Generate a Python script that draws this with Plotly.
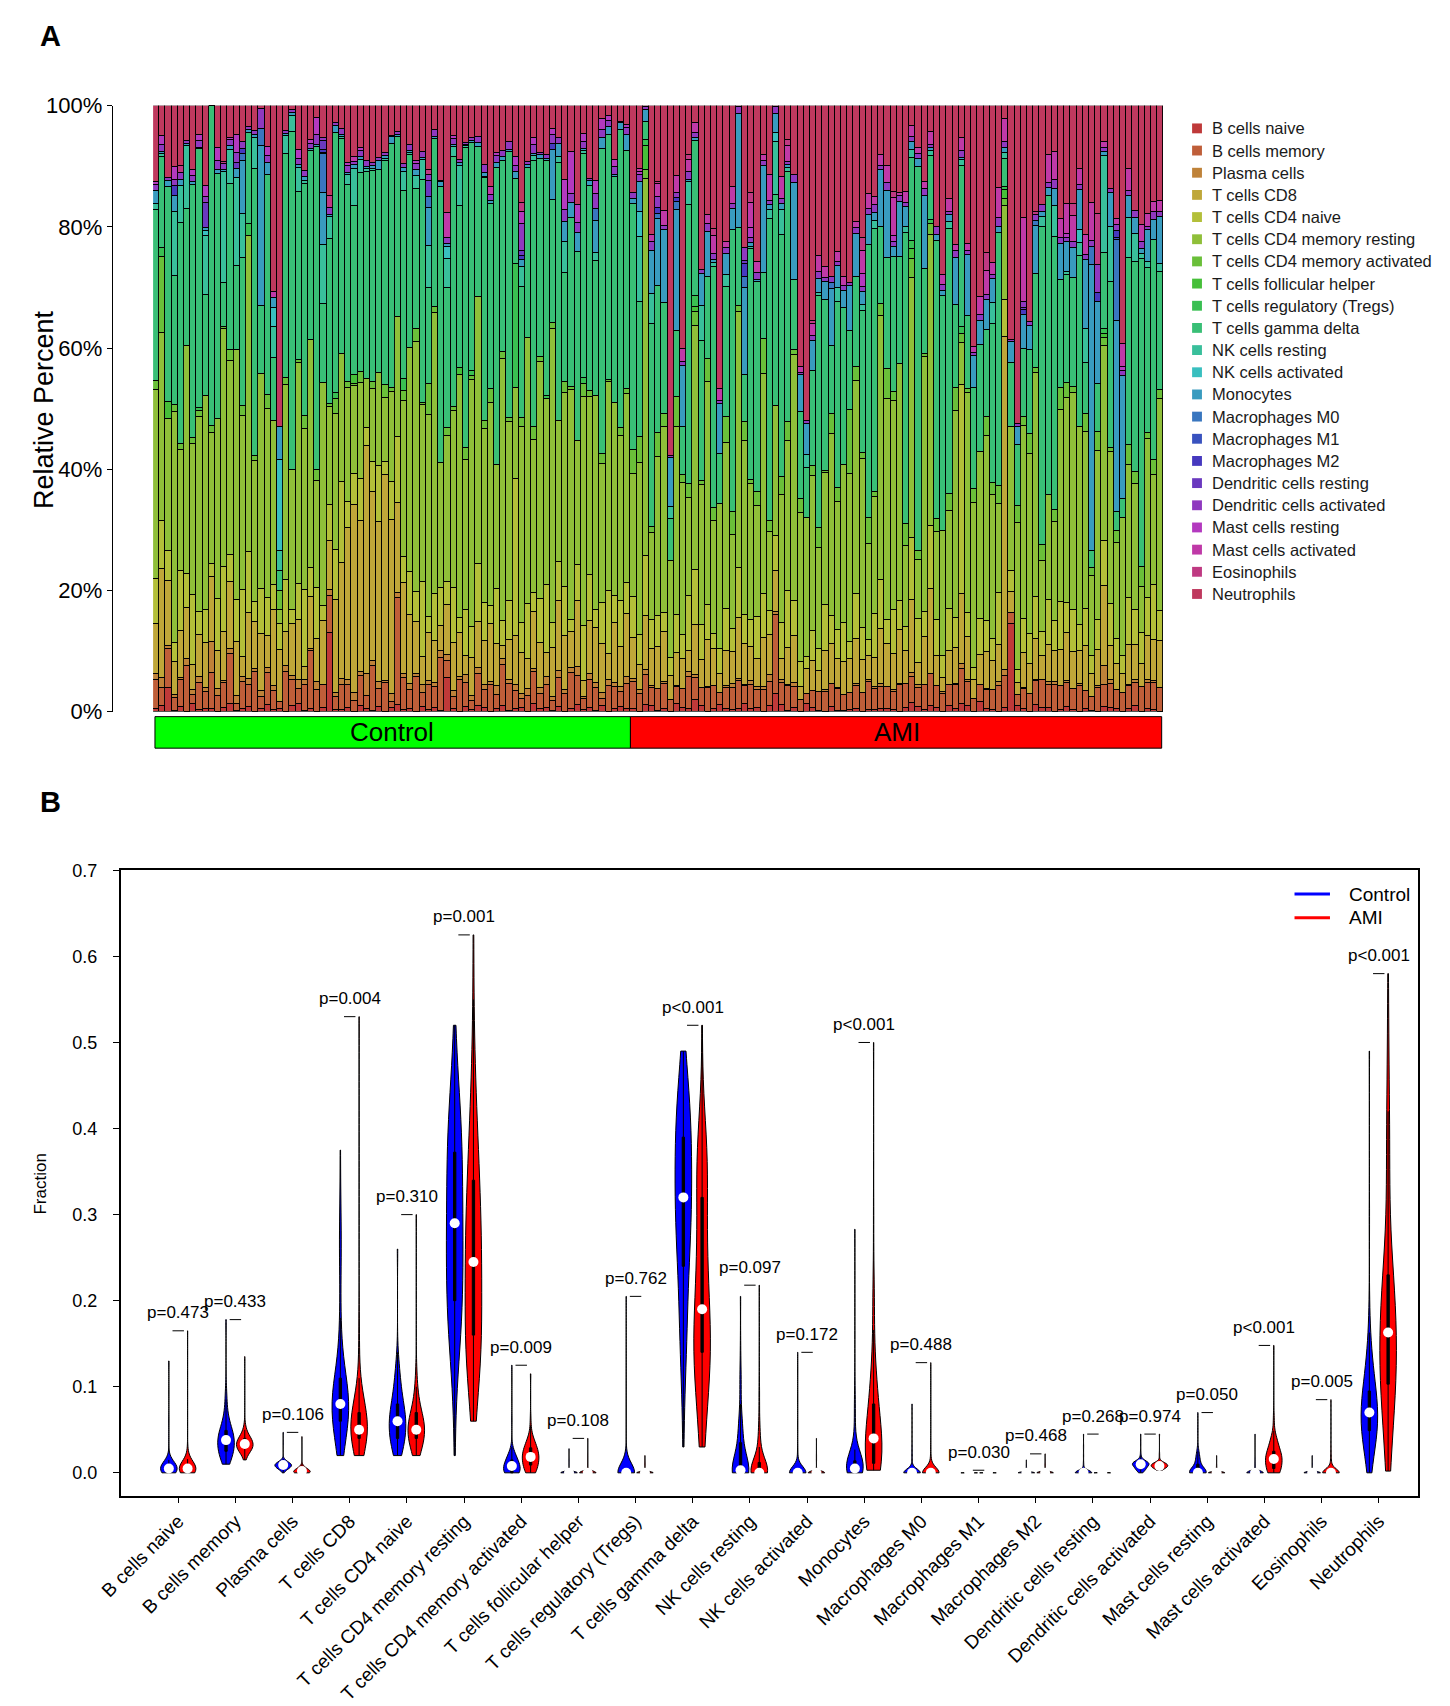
import colorsys
import numpy as np
import plotly.graph_objects as go

# ---------------------------------------------------------------- categories
CELL_TYPES = ["B cells naive", "B cells memory", "Plasma cells", "T cells CD8", "T cells CD4 naive",
              "T cells CD4 memory resting", "T cells CD4 memory activated", "T cells follicular helper",
              "T cells regulatory (Tregs)", "T cells gamma delta", "NK cells resting", "NK cells activated",
              "Monocytes", "Macrophages M0", "Macrophages M1", "Macrophages M2", "Dendritic cells resting",
              "Dendritic cells activated", "Mast cells resting", "Mast cells activated", "Eosinophils",
              "Neutrophils"]
GROUPS = ["Control", "AMI"]
N_CONTROL = 77
N_AMI = 86
P_LABELS = ["p=0.473", "p=0.433", "p=0.106", "p=0.004", "p=0.310", "p=0.001", "p=0.009", "p=0.108",
            "p=0.762", "p<0.001", "p=0.097", "p=0.172", "p<0.001", "p=0.488", "p=0.030", "p=0.468",
            "p=0.268", "p=0.974", "p=0.050", "p<0.001", "p=0.005", "p<0.001"]
Y_TICKS_A = [0, 20, 40, 60, 80, 100]
Y_TICKS_B = [0.0, 0.1, 0.2, 0.3, 0.4, 0.5, 0.6, 0.7]

# ---------------------------------------------------------------- per-sample percentages, Control samples
BN_C = [0.5, 1.0, 4.0, 0.2, 0.8, 0, 1.2, 0.3, 0.6, 0.5, 0, 0.7, 1.5, 0.2, 0.4, 0.9, 0, 0.6, 1.1, 0.3,
        0.5, 0, 0.8, 1.4, 0.2, 0.6, 0, 0.9, 13.0, 0.4, 0.3, 0.7, 0, 1.0, 0.5, 0.2, 0.8, 0, 0.6, 1.2,
        0.3, 0.5, 0, 0.9, 0.4, 0.7, 0.2, 6.0, 0.5, 0, 0.8, 0.3, 1.1, 0.6, 0, 0.4, 0.9, 0.2, 0.5, 0.7,
        0, 1.3, 0.4, 0.6, 0.2, 0.8, 0, 0.5, 1.0, 0.3, 0.6, 0.2, 0.9, 0, 0.4, 0.7, 0.5]
BM_C = [4.5, 3.0, 6.5, 2.0, 4.0, 8.0, 1.5, 4.7, 3.0, 5.5, 2.5, 4.7, 9.0, 1.2, 4.1, 3.5, 6.0, 2.0, 5.1, 3.0,
        1.0, 7.0, 3.5, 2.5, 4.0, 10.0, 3.0, 4.6, 6.0, 2.0, 4.3, 3.5, 1.8, 5.0, 2.2, 7.5, 3.0, 4.5, 1.0, 17.8,
        4.9, 3.0, 6.0, 2.5, 4.7, 3.5, 8.5, 3.1, 2.0, 4.4, 3.6, 1.5, 5.5, 3.0, 4.7, 2.0, 6.5, 4.0, 3.0, 1.5,
        2.7, 5.0, 2.4, 3.8, 1.6, 4.5, 3.0, 6.0, 3.9, 2.0, 4.2, 3.8, 1.0, 5.0, 3.4, 2.3, 4.0]
PL_C = [1.0, 1.6, 0.5, 0.5, 0.3, 1.2, 0.8, 1.0, 0.6, 4.7, 1.0, 0.4, 0.9, 1.3, 0.7, 1.0, 0.5, 1.1, 0.8, 0.9,
        0, 1.0, 0.6, 1.4, 0.8, 0.5, 1.2, 0, 1.0, 0.7, 1.1, 0.9, 1.3, 0.6, 3.5, 0.8, 1.0, 0.4, 1.2, 0.9,
        0.7, 1.0, 0.5, 1.3, 0.8, 0.6, 1.1, 1.0, 0.9, 0.4, 1.2, 0.7, 1.0, 0.8, 0.5, 1.4, 0.9, 0.6, 1.0, 0.8,
        1.1, 0.5, 0.9, 1.2, 0.7, 1.0, 0.6, 0.8, 1.3, 0.4, 1.0, 0.7, 0.9, 1.2, 0.6, 0.8, 1.1]
CD8_C = [8, 18, 11, 5, 7, 9, 4, 7, 8, 10, 6, 9, 12, 9, 3, 11, 7, 10, 5, 12,
         8, 6, 7, 10, 2, 9, 6, 13, 8, 15, 20, 24, 30, 25, 37.5, 28, 26, 32, 27, 15,
         14, 11, 9, 5, 9, 7, 4, 9, 8, 6, 3, 6, 8, 7, 10, 6, 2, 6, 8, 7,
         5, 9, 7, 4, 8, 11, 9, 6, 9, 3, 8, 9, 7, 5, 9, 6, 10]
CD4N_C = [7, 8, 5, 3, 9, 6, 11, 4, 6, 2, 8, 12, 5, 7, 10, 10, 3, 8, 6, 4,
          4, 9, 2, 6, 12, 5, 7, 3, 6, 8, 14, 4, 5, 7, 3, 5, 9, 2, 6, 11,
          4, 7, 5, 13, 3, 8, 6, 4, 9, 2, 7, 5, 10, 6, 3, 8, 4, 6, 26, 5,
          9, 3, 7, 11, 4, 6, 8, 2, 5, 10, 7, 3, 6, 12, 4, 7, 5]
CD4MR_C = [30, 31, 22, 36, 18, 40, 24, 33, 38, 20, 28, 44, 35, 42, 26, 52, 21, 38, 30, 26,
           2, 34, 19, 37, 25, 40, 15, 45, 16, 22, 22, 18, 14, 16, 8, 12, 15, 10, 14, 20,
           24, 36, 43, 31, 38, 47, 20, 26, 29, 33, 23, 39, 46, 28, 35, 18, 41, 27, 15, 33,
           44, 24, 37, 30, 48, 22, 32, 38, 17, 42, 27, 35, 20, 40, 29, 25, 30]
CD4MA_C = [1.5, 12.5, 0, 1.0, 1.0, 0, 1.0, 1.0, 0, 1.0, 0, 0.5, 2.0, 0, 1.5, 0, 0.8, 0, 2.2, 0,
           3.0, 1.2, 0, 0.5, 2.0, 0, 1.4, 0, 0.6, 2.5, 0, 1.0, 0.3, 1.8, 0, 1.2, 0, 2.0, 0.5, 0,
           1.6, 0, 2.2, 0.4, 6.0, 1.0, 0, 1.5, 0.8, 0, 1.9, 0.5, 0, 1.2, 2.4, 0, 1.0, 0.6, 0, 1.4,
           0, 2.0, 0.7, 0, 1.1, 0, 1.8, 0.5, 0, 2.3, 0.9, 0, 1.5, 0.4, 0, 1.2, 0.8]
TFH_C = {3: 2.8, 33: 1.5, 50: 1.0}
TREG_C = {59: 20.5, 2: 1.5, 16: 2.0, 30: 1.0, 41: 1.8, 52: 0.8, 70: 1.2, 8: 0.5, 64: 0.6}
GD_C = [27, 15, 36, 20, 33, 24, 40, 44, 18, 49, 38, 8, 30, 14, 22, 15, 43, 12, 35, 10,
        3, 39, 46, 28, 36, 33, 45, 16, 27, 42, 37, 31, 27, 33, 34, 35, 33, 35, 38, 30,
        29, 31, 24, 39, 18, 28, 44, 25, 41, 22, 46, 36, 26, 39, 32, 43, 30, 40, 14, 22,
        28, 42, 31, 38, 20, 40, 18, 28, 26, 41, 31, 22, 44, 47, 34, 45, 38]
NKR_C = [1.0, 0.5, 0, 10, 5.5, 11, 0, 0, 10.4, 0, 0, 20.5, 6, 14.8, 6.6, 0, 4.6, 0, 0, 5,
         3, 3, 2.2, 4.1, 0.5, 0, 0, 12, 3.6, 0, 0.4, 1.6, 6, 2.2, 0.4, 0.3, 0, 0.3, 0, 0,
         3, 0.2, 2.2, 3.5, 8, 0, 0, 5.2, 1.6, 5.5, 0.2, 0, 0, 0.2, 0, 0, 0, 0, 0, 3.5,
         0, 0.8, 0, 0, 0, 1, 5, 0, 0, 0.5, 0, 1.4, 0, 0, 0, 0, 0]
NKA_C = {21: 14.0, 20: 3.0, 48: 2.0, 9: 1.0}
MONO_C = [2.0, 0.3, 1.1, 2.5, 1.0, 0.3, 0.5, 0.2, 0.5, 0, 0.5, 0.5, 0.8, 1.5, 7.9, 0.5, 0.5, 28.3, 1.9, 1.6,
          5.0, 0.5, 0.3, 0.5, 0.5, 0.3, 0.3, 10.4, 0.3, 1.1, 0.3, 0.4, 0.5, 0.4, 0.4, 0.4, 1.4, 0.4, 1.1, 0.3,
          0.5, 0.4, 1.0, 0.4, 7.1, 0.4, 0.8, 0.6, 0.4, 0.4, 0.2, 0.3, 0.6, 0.6, 0.4, 0.7, 0.6, 0.4, 1.1, 1.1,
          0.6, 0.3, 0.6, 0.4, 8.2, 2.0, 3.3, 2.5, 2.7, 0.5, 0.8, 5.2, 1.6, 1.4, 0.3, 1.1, 2.5]
M0_C = {18: 3.0, 28: 8.0, 45: 2.0, 72: 2.0, 15: 1.0}
M1_C = {28: 0.2}
M2_C = {4: 1.5, 15: 0.8, 65: 1.0, 28: 0.5, 60: 0.6}
DCR_C = {9: 4.5, 28: 2.0, 45: 3.0, 14: 1.0, 60: 1.0}
DCA_C = [1.0, 1.2, 0.5, 1.0, 1.0, 0.5, 1.0, 1.2, 1.0, 0, 1.5, 1.0, 1.0, 1.6, 1.0, 0.5, 0.5, 3.5, 1.0, 0,
         0, 0.5, 0.5, 1.0, 1.0, 1.0, 1.3, 0.5, 1.2, 0.5, 1.0, 1.0, 0.6, 1.0, 1.0, 0.5, 0.5, 0.5, 0.2, 0.5,
         0.6, 1.0, 1.0, 1.0, 1.2, 1.2, 0.2, 1.0, 1.0, 0.4, 0.3, 0.5, 1.0, 1.2, 1.0, 1.0, 1.0, 1.2, 1.0, 4.5,
         0.5, 1.4, 0.3, 0.6, 1.4, 1.0, 2.0, 1.5, 1.3, 1.2, 0.3, 2.4, 1.2, 1.2, 1.2, 0.2, 1.1]
MASTR_C = {1: 0.5, 2: 1.5, 4: 2.0, 7: 1.0, 8: 1.0, 9: 2.0, 11: 2.0, 13: 0.5, 14: 3.0, 19: 1.5, 24: 1.5,
           26: 0.6, 27: 2.5, 32: 0.5, 34: 0.5, 43: 0.5, 49: 0.5, 56: 0.5, 59: 1.5, 60: 2.0, 62: 1.0, 65: 1.0,
           67: 5.0, 68: 7.0, 69: 2.5, 70: 1.5, 72: 2.2, 73: 1.5, 74: 1.0, 75: 1.0, 77: 0.5}
MASTA_C = {20: 1.0, 48: 4.5, 55: 1.5, 33: 0.8}
EOS_C = {5: 1.0, 29: 2.0, 45: 1.0, 60: 1.5, 12: 0.5}
NEUT_C = [12.0, 4.9, 12.0, 9.5, 9.0, 6.2, 10.1, 4.9, 14.2, 0.0, 6.5, 10.3, 5.7, 4.9, 5.4, 3.5, 3.8, 0.5, 6.5, 29.5,
          49.0, 4.3, 0.5, 7.3, 10.1, 6.0, 1.6, 6.5, 14.7, 2.7, 4.0, 9.0, 8.1, 7.0, 9.0, 9.5, 8.4, 7.3, 4.6, 4.3,
          9.0, 6.2, 9.5, 8.1, 12.0, 4.0, 12.0, 19.1, 4.9, 7.3, 5.7, 5.1, 5.4, 9.5, 13.9, 6.8, 7.0, 5.4, 8.4, 16.3,
          9.2, 5.1, 7.3, 7.9, 3.8, 4.9, 12.2, 7.6, 13.6, 5.1, 11.1, 12.2, 1.9, 1.9, 8.1, 2.4, 3.0]

# ---------------------------------------------------------------- per-sample percentages, AMI samples
BN_A = [0.4, 0, 1.2, 0.8, 0.2, 0.5, 0, 1.5, 0.7, 0.5, 2.2, 0.9, 0, 0.4, 1.1, 0.5, 0.3, 0.6, 1.4, 0.5,
        0.6, 0, 0.8, 3.0, 1.0, 0.2, 0.7, 0, 1.3, 0.6, 0.2, 0, 0.9, 0.2, 0.1, 0.4, 0.6, 0, 0.3, 0.3,
        0.6, 0.5, 0.3, 0, 0.5, 1.8, 0.7, 0.4, 1.1, 0.6, 0, 0.8, 0.5, 1.2, 0.9, 0, 1.6, 0.5, 0.3, 0,
        0.7, 16.5, 1.0, 0.5, 0, 1.2, 0.5, 0.6, 0, 0.4, 0.8, 0.4, 0, 0.4, 0.2, 0, 1.1, 0.6, 0.5, 0,
        0.5, 0.9, 0, 0.5, 0.3, 0]
BM_A = [4, 3, 5, 2.5, 3.5, 4, 2, 3, 3, 4.5, 4, 2.5, 4, 3, 2, 3.5, 2.8, 5, 3, 3.5,
        2.5, 4, 3, 13.5, 3, 4, 3.5, 2, 1.5, 3, 2.5, 3, 4, 3, 2.5, 3, 4, 3, 3.5, 2.8,
        4, 3.5, 3, 4.5, 3, 5, 2.5, 4, 6, 3, 2.5, 3, 4, 5, 4, 2, 3, 3, 2.8, 3.5,
        5, 2, 1.8, 3.5, 3, 4, 3.5, 3, 3.5, 4, 4, 3.5, 4, 3, 2.5, 4, 5, 3.5, 3, 3,
        3.4, 3.3, 3.3, 4, 4, 4]
PL_A = [0.5, 0.6, 0.8, 0.3, 0, 0.4, 0, 0.2, 0, 0.7, 0.5, 0, 0.2, 0, 0, 0.3, 0.5, 0.3, 0.3, 0.5,
        0.5, 0.5, 0.9, 0.5, 0.5, 0.1, 0.7, 0, 0, 0, 0, 0.3, 0, 0.2, 0, 0, 0.4, 0, 0.2, 0.3,
        0.5, 0, 0.2, 0.3, 0, 0.8, 0.4, 0, 0.1, 0, 0.2, 0, 0.3, 0.7, 0.3, 0, 0, 0.2, 0, 0.5,
        1.0, 0, 0, 0.3, 0, 0.2, 0, 0.4, 0.5, 0, 0.3, 0, 0.2, 0, 0, 0.3, 4.2, 0.5, 0, 0,
        0.2, 0.3, 0, 0.5, 0.2, 0]
CD8_A = [6, 4, 9, 5, 7, 8, 4, 6, 5, 3, 9, 4, 8, 5, 3, 6, 4, 11, 7, 5,
         4, 9, 5, 7, 3, 6, 8, 2, 4, 5, 3, 6, 7, 4, 5, 6, 8, 5, 3, 4,
         10, 7, 6, 9, 4, 14, 3, 8, 16, 4, 2, 5, 6, 10, 7, 3, 5, 6, 4, 5,
         53, 4, 2, 6, 5, 7, 3, 5, 4, 6, 8, 6, 5, 7, 4, 6, 18, 5, 4, 3,
         6, 5, 3, 7, 6, 8]
CD4N_A = [6, 5, 10, 4, 5, 3, 3, 7, 4, 8, 10, 5, 6, 2, 4, 7, 3, 9, 5, 4,
          6, 8, 3, 6, 5, 9, 6, 4, 2, 5, 3, 7, 5, 4, 6, 3, 8, 5, 2, 6,
          9, 4, 7, 5, 3, 12, 6, 4, 12, 5, 3, 6, 5, 30, 4, 2, 6, 5, 3, 7,
          6, 4, 2, 6, 5, 7, 3, 6, 4, 8, 5, 7, 4, 6, 3, 5, 10, 6, 4, 3,
          7, 5, 4, 6, 8, 5]
CD4MR_A = [18, 28, 62.5, 12, 26, 30, 16, 34, 25, 14, 44, 20, 38, 15, 23, 28, 12, 46, 30, 20,
           16, 40, 10, 22, 18, 24, 42, 24, 22, 26, 14, 20, 32, 18, 24, 30, 38, 26, 12, 16,
           48, 36, 34, 40, 10, 50, 8, 42, 55, 12, 17, 14, 35, 6, 36, 26, 28, 30, 20, 12,
           15, 27, 24, 34, 30, 38, 9, 14, 13, 32, 34, 36, 30, 28, 14, 28, 44, 22, 15, 22,
           20, 18, 6, 25, 16, 36]
CD4MA_A = [3.5, 4.2, 1.5, 0.8, 4.0, 2.1, 0, 5.5, 1.2, 2.0, 2.6, 0.5, 3.8, 1.7, 0, 4.4, 2.9, 1.1, 3.3, 0.6,
           2.0, 6.5, 1.4, 0, 2.4, 3.1, 0.9, 2.2, 0, 1.6, 2.8, 0.4, 3.5, 1.9, 0, 11.5, 2.6, 1.0, 3.2, 0.7,
           2.3, 4.8, 1.5, 0, 2.7, 3.6, 1.2, 0.5, 2.2, 1.8, 0, 2.5, 3.9, 1.3, 0.6, 2.1, 0, 3.0, 1.7, 2.4,
           1.0, 0, 2.8, 1.5, 3.4, 0.8, 2.0, 0, 1.6, 3.7, 2.5, 1.1, 0, 2.9, 1.4, 3.2, 1.6, 0.7, 2.0, 0,
           3.0, 1.8, 2.6, 0.9, 2.3, 1.5]
TFH_A = {3: 4.0, 46: 2.0, 61: 1.5, 77: 1.0, 11: 0.8}
TREG_A = {3: 1.0, 11: 2.0, 46: 1.5, 49: 0.8, 77: 1.2, 61: 0.5, 54: 1.0}
GD_A = [36, 22, 3, 28, 24, 18, 7, 12, 8, 40, 28, 20, 14, 32, 8, 22, 36, 14, 8, 34,
        30, 12, 38, 36, 34, 40, 12, 14, 8, 16, 32, 26, 12, 26, 24, 14, 16, 22, 34, 36,
        14, 18, 22, 18, 36, 16, 52, 14, 12, 38, 32, 38, 14, 23, 12, 16, 18, 14, 22, 34,
        4.4, 12, 10, 12, 14, 16, 40, 40, 36, 18, 18, 18, 26, 8, 3, 8, 17, 24, 3, 3,
        28, 30, 40, 26, 32, 20]
NKR_A = [0, 10.6, 0, 4.0, 0, 0, 2.0, 0, 0, 3.3, 0, 5.0, 0, 0.5, 0, 2.0, 0, 0, 0, 0.4,
         0, 0, 1.1, 9.0, 3.5, 0.6, 0, 0, 2.0, 0, 0.5, 0, 0, 2.0, 0, 0, 0, 0.8, 0, 1.2,
         0, 0, 0, 0, 0.7, 1.5, 0, 0, 0.9, 0, 0, 1.0, 0, 0.8, 0, 0, 0, 0, 3.0, 0,
         1.0, 0, 0, 0, 0, 0, 1.3, 0, 4.1, 0, 0.5, 0, 2.0, 5.5, 0, 0, 21.8, 8.0, 0, 0,
         6.0, 4.0, 0.6, 1.0, 0, 1.2]
NKA_A = {2: 4.0, 24: 1.5, 73: 2.0}
MONO_A = [0.8, 5.0, 2.0, 6.0, 11.0, 11.7, 8.0, 22.0, 10.0, 0.3, 0.5, 4.6, 7.7, 0.5, 8.0, 3.5, 2.7, 20.5, 15.0, 0.5,
          0.4, 19.4, 0.6, 3.3, 0.8, 0.5, 16.6, 6.0, 5.0, 5.0, 1.9, 2.7, 10.0, 3.0, 2.5, 8.0, 7.7, 2.0, 3.8, 1.1,
          10.4, 11.0, 1.6, 9.3, 2.5, 1.6, 1.1, 12.0, 0.6, 0.8, 0.7, 0.9, 8.0, 0.4, 10.0, 5.0, 4.0, 5.0, 3.3, 0.8,
          0.8, 4.0, 3.0, 6.0, 4.0, 8.0, 0.6, 1.1, 2.2, 6.0, 5.0, 5.0, 6.0, 10.9, 50.0, 13.7, 0.9, 4.9, 30.0, 19.7,
          3.3, 2.2, 0.7, 5.0, 3.0, 8.0]
M0_A = {79: 12.8, 66: 1.0, 19: 2.0, 8: 1.5, 75: 3.0, 33: 1.0, 5: 0.8}
M1_A = {79: 0.3}
M2_A = {5: 1.0, 19: 2.2, 76: 1.5, 79: 1.0, 8: 0.6, 64: 0.8}
DCR_A = {19: 0.5, 64: 0.4}
DCA_A = [0.8, 1.0, 0.5, 1.2, 1.8, 0.6, 0.3, 1.0, 0.7, 1.1, 0.9, 0.5, 1.3, 0.8, 0.4, 1.0, 0.6, 1.2, 2.2, 0.7,
         1.0, 0.9, 0.5, 1.1, 0.8, 0.6, 1.4, 0.3, 0.5, 0.9, 1.0, 0.7, 1.2, 0.6, 0.8, 0.5, 1.1, 0.9, 0.7, 1.0,
         0.6, 1.3, 0.8, 1.0, 0.5, 0.9, 0.7, 1.2, 0.6, 1.0, 0.8, 0.5, 1.1, 0.9, 0.7, 0.4, 1.0, 0.8, 0.6, 1.2,
         0.9, 0.3, 0.4, 1.1, 0.6, 1.0, 0.8, 0.7, 1.2, 0.9, 0.6, 1.0, 0.8, 0.7, 1.1, 4.5, 0.9, 0.6, 1.0, 0.8,
         0.7, 1.0, 0.9, 0.6, 1.1, 0.8]
MASTR_A = {2: 0.5, 20: 1.5, 38: 2.0, 43: 1.0, 71: 0.8, 80: 0.6}
MASTA_A = [0, 0.5, 0, 1.0, 2.0, 2.5, 0, 3.0, 2.0, 1.7, 1.9, 0, 1.6, 2.3, 2.0, 1.0, 2.2, 0, 0, 3.7,
           1.6, 1.1, 3.3, 0, 3.0, 2.5, 0, 1.0, 0, 2.0, 2.2, 1.6, 0, 1.4, 1.4, 0, 1.0, 3.5, 1.9, 1.1,
           2.0, 2.7, 6.1, 0.5, 1.4, 2.2, 0.8, 1.1, 2.5, 0, 1.4, 1.9, 1.1, 1.9, 1.1, 1.0, 3.0, 3.8, 1.6, 4.0,
           3.8, 0, 0, 14.8, 0, 0, 0, 3.8, 3.8, 3.3, 4.9, 4.3, 2.5, 3.3, 6.6, 0, 1.4, 0, 1.0, 3.8,
           3.3, 0, 2.2, 2.0, 1.5, 2.0]
EOS_A = {10: 0.8, 14: 1.0, 20: 1.5, 26: 1.0, 38: 2.0, 43: 1.0, 58: 3.0, 72: 2.0, 76: 8.5, 5: 0.3, 30: 0.5,
         66: 0.4}
NEUT_A = [12.8, 10.3, 0.2, 17.7, 12.5, 16.9, 58.0, 12.8, 40.0, 7.0, 3.0, 23.4, 18.5, 16.3, 45.0, 23.0, 10.3, 0.2,
          24.5, 12.8, 22.3, 9.0, 8.7, 0.2, 10.0, 5.4, 11.7, 42.0, 50.0, 36.0, 20.7, 24.5, 30.0, 20.4, 26.0, 31.6,
          20.7, 20.4, 11.0, 12.5, 9.0, 9.8, 14.0, 14.7, 10.6, 3.8, 5.7, 12.5, 4.9, 16.6, 23.0, 13.3, 23.4, 4.6,
          22.6, 38.0, 32.0, 23.7, 21.8, 11.0, 2.0, 44.0, 52.0, 19.6, 36.0, 18.0, 12.5, 6.5, 6.0, 18.8, 16.3, 16.3,
          9.5, 20.4, 17.0, 18.0, 8.0, 12.0, 17.7, 38.0, 9.5, 15.0, 15.5, 17.0, 14.0, 16.0]


def expand(sparse, n):
    """Sparse {sample number: percent} -> full per-sample list (absent samples are 0)."""
    out = [0.0] * n
    for k, v in sparse.items():
        out[k - 1] = v
    return out


def full(values, n):
    return expand(values, n) if isinstance(values, dict) else list(values)


CONTROL_DATA = [BN_C, BM_C, PL_C, CD8_C, CD4N_C, CD4MR_C, CD4MA_C, TFH_C, TREG_C, GD_C, NKR_C, NKA_C,
                MONO_C, M0_C, M1_C, M2_C, DCR_C, DCA_C, MASTR_C, MASTA_C, EOS_C, NEUT_C]
AMI_DATA = [BN_A, BM_A, PL_A, CD8_A, CD4N_A, CD4MR_A, CD4MA_A, TFH_A, TREG_A, GD_A, NKR_A, NKA_A,
            MONO_A, M0_A, M1_A, M2_A, DCR_A, DCA_A, MASTR_A, MASTA_A, EOS_A, NEUT_A]
CTRL = [np.array(full(v, N_CONTROL), dtype=float) for v in CONTROL_DATA]
AMI = [np.array(full(v, N_AMI), dtype=float) for v in AMI_DATA]

# ---------------------------------------------------------------- styling
W, H = 1450, 1706
FONT = "Liberation Sans, Arial, sans-serif"
COLORS = []
for i in range(len(CELL_TYPES)):
    r, g, b = colorsys.hsv_to_rgb(i / len(CELL_TYPES), 0.7, 0.75)
    COLORS.append(f"rgb({round(r * 255)},{round(g * 255)},{round(b * 255)})")
GROUP_FILL = {"Control": "#00FF00", "AMI": "#FF0000"}
VIOLIN_FILL = {"Control": "#0000FF", "AMI": "#FF0000"}


def px(x):
    return x / W


def py(y):
    return 1 - y / H


fig = go.Figure()

# ---------------------------------------------------------------- panel A: stacked bars
n_total = N_CONTROL + N_AMI
samples = list(range(n_total))
for k, name in enumerate(CELL_TYPES):
    vals = np.concatenate([CTRL[k], AMI[k]])
    fig.add_trace(go.Bar(x=samples, y=vals, name=name, width=1.0,
                         marker=dict(color=COLORS[k], line=dict(color="black", width=0.9)),
                         showlegend=False, hoverinfo="skip", xaxis="x", yaxis="y"))

shapes = []
annotations = []

# group bar under panel A
bounds = [(-0.5, N_CONTROL - 0.5, "Control"), (N_CONTROL - 0.5, n_total - 0.5, "AMI")]
for x0, x1, g in bounds:
    shapes.append(dict(type="rect", xref="x", yref="paper", x0=x0 + 0.3 if g == "Control" else x0,
                       x1=x1 - 0.3 if g == "AMI" else x1, y0=py(739), y1=py(707),
                       fillcolor=GROUP_FILL[g], line=dict(color="black", width=1)))
    annotations.append(dict(x=(x0 + x1) / 2, y=py(723), xref="x", yref="paper", text=g, showarrow=False,
                            font=dict(family=FONT, size=26, color="black"), xanchor="center", yanchor="middle"))

# manual legend for panel A
for k, name in enumerate(CELL_TYPES):
    yc = 110 + k * 22.5
    shapes.append(dict(type="rect", xref="paper", yref="paper", x0=px(1180), x1=px(1190),
                       y0=py(yc + 5), y1=py(yc - 5), fillcolor=COLORS[k], line=dict(width=0)))
    annotations.append(dict(x=px(1198), y=py(yc), xref="paper", yref="paper", text=name, showarrow=False,
                            xanchor="left", yanchor="middle", font=dict(family=FONT, size=16.5, color="#1a1a1a")))

annotations.append(dict(x=px(14), y=py(395), xref="paper", yref="paper", text="Relative Percent",
                        textangle=-90, showarrow=False, font=dict(family=FONT, size=27, color="black"),
                        xanchor="center", yanchor="middle"))

# ---------------------------------------------------------------- panel B: violins
OFFSET = 0.164
med_x = []
med_y = []
for k, name in enumerate(CELL_TYPES):
    pos = k + 1
    for g, off, arr in [("Control", -OFFSET, CTRL[k]), ("AMI", OFFSET, AMI[k])]:
        y = arr / 100.0
        sd = float(np.std(y, ddof=1))
        bw = 1.06 * sd * len(y) ** (-0.2) if sd > 0 else 1e-4
        fig.add_trace(go.Violin(x0=pos + off, y=y, width=0.29, scalemode="width", spanmode="hard",
                                bandwidth=bw, fillcolor=VIOLIN_FILL[g], opacity=1,
                                line=dict(color="black", width=1),
                                box=dict(visible=True, width=0.14, fillcolor="black",
                                         line=dict(color="black", width=1)),
                                meanline=dict(visible=False), points=False, showlegend=False,
                                hoverinfo="skip", xaxis="x2", yaxis="y2", name=f"{name} {g}"))
        med_x.append(pos + off)
        med_y.append(float(np.median(y)))
    top = max(CTRL[k].max(), AMI[k].max()) / 100.0
    shapes.append(dict(type="line", xref="x2", yref="y2", x0=pos - 0.1, x1=pos + 0.1, y0=top, y1=top,
                       line=dict(color="black", width=1)))
    annotations.append(dict(x=pos, y=top, xref="x2", yref="y2", text=P_LABELS[k], showarrow=False,
                            yshift=18, xanchor="center", yanchor="middle",
                            font=dict(family=FONT, size=17, color="black")))

fig.add_trace(go.Scatter(x=med_x, y=med_y, mode="markers", xaxis="x2", yaxis="y2", showlegend=False,
                         hoverinfo="skip", marker=dict(color="white", size=10, line=dict(width=0))))

# manual legend for panel B
for i, g in enumerate(GROUPS):
    yc = 887 + i * 24
    shapes.append(dict(type="line", xref="paper", yref="paper", x0=px(1284), x1=px(1320), y0=py(yc), y1=py(yc),
                       line=dict(color=VIOLIN_FILL[g], width=3)))
    annotations.append(dict(x=px(1337), y=py(yc), xref="paper", yref="paper", text=g, showarrow=False,
                            xanchor="left", yanchor="middle", font=dict(family=FONT, size=19, color="black")))

annotations.append(dict(x=px(11), y=py(1181), xref="paper", yref="paper", text="Fraction", textangle=-90,
                        showarrow=False, font=dict(family=FONT, size=17, color="black"),
                        xanchor="center", yanchor="middle"))

# panel letters
annotations.append(dict(x=px(8), y=py(16), xref="paper", yref="paper", text="<b>A</b>", showarrow=False,
                        xanchor="left", yanchor="middle", font=dict(family=FONT, size=29, color="black")))
annotations.append(dict(x=px(8), y=py(794), xref="paper", yref="paper", text="<b>B</b>", showarrow=False,
                        xanchor="left", yanchor="middle", font=dict(family=FONT, size=29, color="black")))

fig.update_layout(
    width=W, height=H, margin=dict(l=0, r=0, t=0, b=0), paper_bgcolor="white", plot_bgcolor="white",
    barmode="stack", barnorm="percent", bargap=0, showlegend=False,
    font=dict(family=FONT, color="black"),
    xaxis=dict(domain=[px(125), px(1151)], range=[-0.5, n_total - 0.5], showticklabels=False, showgrid=False,
               zeroline=False, showline=False, ticks="", anchor="y"),
    yaxis=dict(domain=[py(702), py(87)], range=[0, 100], anchor="free", position=px(83), showline=True,
               linecolor="black", linewidth=1, ticks="outside", ticklen=5, tickcolor="black",
               tickvals=Y_TICKS_A, ticktext=[f"{v}%" for v in Y_TICKS_A], showgrid=False, zeroline=False,
               tickfont=dict(family=FONT, size=22, color="black")),
    xaxis2=dict(domain=[px(92), px(1409)], range=[-0.008, 22.68], anchor="y2", showline=True, mirror=True,
                linecolor="black", linewidth=1.5, ticks="outside", ticklen=5, tickcolor="black",
                tickvals=list(range(1, len(CELL_TYPES) + 1)), ticktext=CELL_TYPES, tickangle=-45,
                showgrid=False, zeroline=False, tickfont=dict(family=FONT, size=19, color="black")),
    yaxis2=dict(domain=[py(1498), py(863)], range=[-0.027, 0.7], anchor="x2", showline=True, mirror=True,
                linecolor="black", linewidth=1.5, ticks="outside", ticklen=6, tickcolor="black",
                tickvals=Y_TICKS_B, ticktext=[f"{v:.1f}" for v in Y_TICKS_B], showgrid=False,
                zeroline=False, ticklabelstandoff=12, tickfont=dict(family=FONT, size=18, color="black")),
    shapes=shapes, annotations=annotations,
)

fig.write_html("out.html")
